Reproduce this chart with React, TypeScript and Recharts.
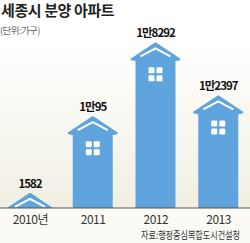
import { BarChart, Bar, XAxis, YAxis, LabelList } from 'recharts';

const years = ['2010년', '2011', '2012', '2013'];
const units = [1582, 10095, 18292, 12397];

const data = years.map((year, i) => ({ year, units: units[i] }));

const BLUE = '#5fa4dc';
const FONT = '"Noto Sans CJK KR", "Noto Sans", sans-serif';

const fmt = (v: number) => (v >= 10000 ? `${Math.floor(v / 10000)}만${v % 10000}` : String(v));

function House(props: any) {
  const { x, y, width, height, index } = props;
  const cx = x + width / 2;
  const bottom = y + height;
  const eave = y + 16;
  const id = `house-clip-${index}`;
  const win = 6;
  return (
    <g>
      <defs>
        <clipPath id={id}>
          <rect x={x - 12} y={y - 6} width={width + 24} height={bottom - y + 6} />
        </clipPath>
      </defs>
      <g clipPath={`url(#${id})`}>
        <path
          d={`M${cx},${y} L${x + width + 5},${eave} L${x + width},${eave + 1} L${x + width},${bottom + 3} L${x},${bottom + 3} L${x},${eave + 1} L${x - 5},${eave} Z`}
          fill={BLUE}
          stroke={BLUE}
          strokeWidth={2}
          strokeLinejoin="round"
        />
        <polyline
          points={`${cx - 15},${y + 13} ${cx},${y + 5} ${cx + 15},${y + 13}`}
          fill="none"
          stroke="#fff"
          strokeWidth={2}
          strokeLinejoin="round"
        />
        {[0, 1].map((r) =>
          [0, 1].map((c) => (
            <rect
              key={`${r}-${c}`}
              x={cx - 7 + c * 8}
              y={y + 24 + r * 8}
              width={win}
              height={win}
              rx={1.2}
              fill="#fff"
            />
          ))
        )}
      </g>
    </g>
  );
}

function ValueLabel(props: any) {
  const { x, y, width, value } = props;
  return (
    <text
      x={x + width / 2}
      y={y - 6}
      textAnchor="middle"
      fontSize={11.5}
      fontWeight="bold"
      letterSpacing={-1}
      fill="#111"
    >
      {fmt(value)}
    </text>
  );
}

export default function App() {
  return (
    <div
      style={{
        position: 'absolute',
        left: 0,
        top: 0,
        width: 250,
        height: 243,
        fontFamily: FONT,
        background: 'linear-gradient(to bottom, #ffffff 0px, #ffffff 40px, #f1efe3 208px, #fbfaf5 208px, #fbfaf5 243px)',
        overflow: 'hidden',
      }}
    >
      <BarChart width={250} height={243} data={data} margin={{ top: 28, right: 0, bottom: 0, left: -1 }} barSize={38}>
        <YAxis hide domain={[0, 20000]} />
        <XAxis
          dataKey="year"
          height={35}
          axisLine={{ stroke: '#555' }}
          tickLine={false}
          tickSize={6}
          tickMargin={1}
          tick={{ fill: '#333', fontSize: 12, letterSpacing: -0.5 }}
        />
        <Bar dataKey="units" shape={<House />} isAnimationActive={false}>
          <LabelList dataKey="units" content={<ValueLabel />} />
        </Bar>
      </BarChart>
      <svg width={250} height={243} style={{ position: 'absolute', left: 0, top: 0, pointerEvents: 'none' }}>
        <text x={1} y={16} fontSize={15} fontWeight="bold" letterSpacing={-0.4} fill="#222">
          세종시 분양 아파트
        </text>
        <text x={0} y={34} fontSize={9.5} letterSpacing={-0.6} fill="#666">
          (단위:가구)
        </text>
        <text transform="translate(141,239) scale(1,1.25)" x={0} y={0} fontSize={8.1} fill="#333">
          자료:행정중심복합도시건설청
        </text>
      </svg>
    </div>
  );
}
